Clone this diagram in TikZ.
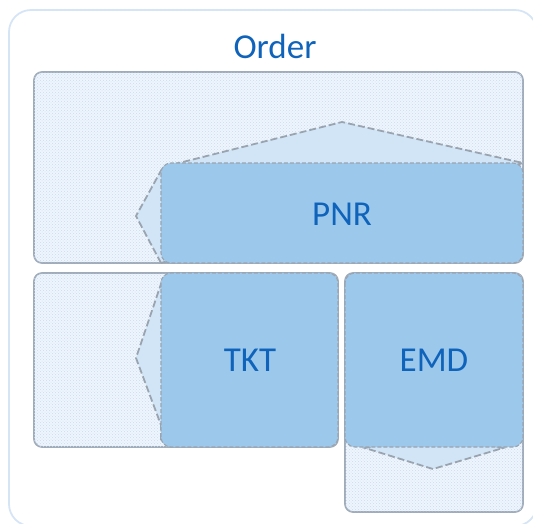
\documentclass[tikz,border=0pt]{standalone}
\usepackage{fontspec}
\setmainfont{Carlito}
\usetikzlibrary{patterns}
\definecolor{framecol}{HTML}{D5E5F5}
\definecolor{edgegray}{HTML}{A0ACBA}
\definecolor{dashgray}{HTML}{9AA4B0}
\definecolor{solidblue}{HTML}{9CC9EB}
\definecolor{paleblue}{HTML}{D2E5F6}
\definecolor{hatchbg}{HTML}{EFF5FC}
\definecolor{hatchdot}{HTML}{C8DCF1}
\definecolor{textblue}{HTML}{0F63BA}
\tikzset{
  hatchbox/.style={draw=edgegray, line width=1.7pt, rounded corners=8pt, fill=hatchbg},
  hatchtex/.style={pattern=crosshatch dots, pattern color=hatchdot},
  solidbox/.style={draw=dashgray, line width=1.1pt, dash pattern=on 4pt off 2pt, rounded corners=10pt, fill=solidblue},
  arrowpart/.style={draw=dashgray, line width=1.8pt, dash pattern=on 7pt off 3pt, fill=paleblue},
  label/.style={text=textblue, font=\fontsize{35}{40}\selectfont, inner sep=0pt}
}
\begin{document}
\begin{tikzpicture}[x=1pt, y=-1pt]
\useasboundingbox (0,0) rectangle (533,523);
% outer frame
\draw[framecol, line width=1.8pt, rounded corners=22pt] (9,10) rectangle (537,526);
\node[label] (order) at (275,46) {Order};

% PNR group
\draw[hatchbox] (34,72) rectangle (523,263);
\fill[hatchtex, rounded corners=8pt] (34,72) rectangle (523,263);
\draw[arrowpart] (161,263) -- (136,216) -- (163,167) -- (342,122) -- (523,163) -- cycle;
\draw[solidbox] (161,163) rectangle (523,263);
\node[label] (pnr) at (342,214) {PNR};

% TKT group
\draw[hatchbox] (34,273) rectangle (338,447);
\fill[hatchtex, rounded corners=8pt] (34,273) rectangle (338,447);
\draw[arrowpart] (161,440) -- (161,425) -- (136,358) -- (163,278) -- (200,278) -- cycle;
\draw[solidbox] (161,273) rectangle (338,447);
\node[label] (tkt) at (250,360) {TKT};

% EMD group
\draw[hatchbox] (345,273) rectangle (523,512);
\fill[hatchtex, rounded corners=8pt] (345,273) rectangle (523,512);
\draw[arrowpart] (400,440) -- (365,448) -- (433,469) -- (503,448) -- (470,440) -- cycle;
\draw[solidbox] (345,273) rectangle (523,447);
\node[label] (emd) at (434,360) {EMD};
\end{tikzpicture}
\end{document}
